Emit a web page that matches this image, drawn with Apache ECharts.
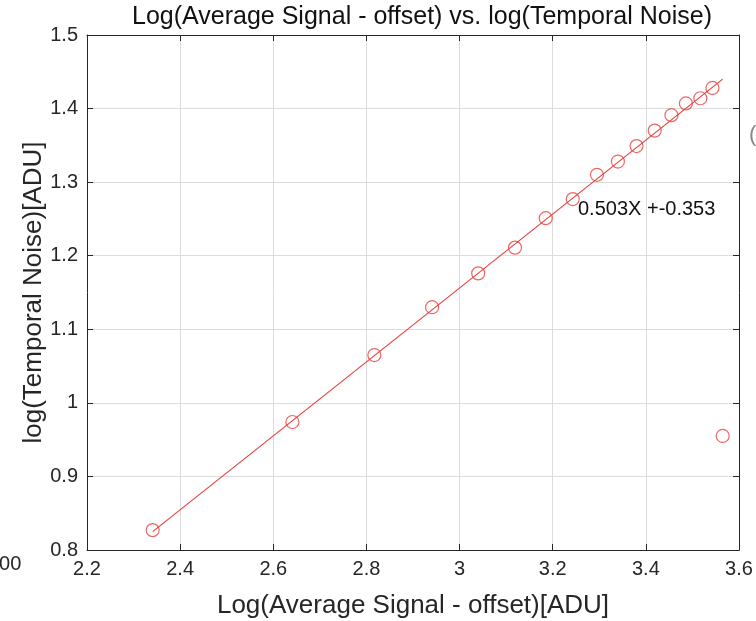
<!DOCTYPE html>
<html>
<head>
<meta charset="utf-8">
<script src="https://cdn.jsdelivr.net/npm/echarts@6/dist/echarts.min.js"></script>
<style>
  html, body { margin: 0; padding: 0; background: #fff; }
  #noise_chart { width: 756px; height: 621px; }
</style>
</head>
<body>
<div id="noise_chart"></div>
<script>
  // log10 of mean signal (offset removed) and of temporal noise, in ADU
  let signalLog = [2.341, 2.641, 2.817, 2.941, 3.040, 3.119, 3.185, 3.243, 3.295,
    3.340, 3.380, 3.419, 3.455, 3.486, 3.517, 3.543, 3.565]
  let noiseLog = [0.827, 0.974, 1.065, 1.130, 1.176, 1.211, 1.251, 1.277, 1.310,
    1.328, 1.349, 1.370, 1.391, 1.407, 1.414, 1.428, 0.955]
  // ends of the fitted line 0.503X - 0.353
  let fitX = [2.341, 3.565]
  let fitY = [0.825, 1.440]
  let xTickLabels = ['2.2', '2.4', '2.6', '2.8', '3', '3.2', '3.4', '3.6']
  let yTickLabels = ['0.8', '0.9', '1', '1.1', '1.2', '1.3', '1.4', '1.5']

  let font = 'Liberation Sans, Arial, sans-serif'
  let red = '#e8413d'
  let dark = '#262626'

  let myChart = echarts.init(document.getElementById('noise_chart'))

  let boxAxis = {
    axisLine: { show: true, lineStyle: { color: dark, width: 1 } },
    axisTick: { show: true, inside: true, length: 6, lineStyle: { color: dark } },
    axisLabel: { show: false },
    splitLine: { show: false }
  }

  let option = {
    animation: false,
    backgroundColor: '#fff',
    grid: {
      left: 87,
      right: 17,
      top: 35,
      bottom: 71,
      containLabel: false,
      outerBoundsMode: 'none'
    },
    xAxis: [{
      type: 'value',
      min: 2.2,
      max: 3.6,
      interval: 0.2,
      name: 'Log(Average Signal - offset)[ADU]',
      nameLocation: 'middle',
      nameGap: 43,
      nameMoveOverlap: false,
      nameTextStyle: { color: dark, fontSize: 26, fontFamily: font },
      axisLine: { show: true, onZero: false, lineStyle: { color: dark } },
      axisTick: { show: true, inside: true, length: 6, lineStyle: { color: dark } },
      axisLabel: {
        color: dark,
        fontSize: 20,
        fontFamily: font,
        margin: 9,
        formatter: function (value, index) {
          return xTickLabels[index]
        }
      },
      splitLine: { show: true, lineStyle: { color: '#dcdcdc' } }
    }, Object.assign({
      type: 'value',
      position: 'top',
      min: 2.2,
      max: 3.6,
      interval: 0.2
    }, boxAxis)],
    yAxis: [{
      type: 'value',
      min: 0.8,
      max: 1.5,
      interval: 0.1,
      name: 'log(Temporal Noise)[ADU]',
      nameLocation: 'middle',
      nameGap: 40,
      nameMoveOverlap: false,
      nameTextStyle: { color: dark, fontSize: 26, fontFamily: font },
      axisLine: { show: true, onZero: false, lineStyle: { color: dark } },
      axisTick: { show: true, inside: true, length: 6, lineStyle: { color: dark } },
      axisLabel: {
        color: dark,
        fontSize: 20,
        fontFamily: font,
        margin: 9,
        formatter: function (value, index) {
          return yTickLabels[index]
        }
      },
      splitLine: { show: true, lineStyle: { color: '#dcdcdc' } }
    }, Object.assign({
      type: 'value',
      position: 'right',
      min: 0.8,
      max: 1.5,
      interval: 0.1
    }, boxAxis)],
    graphic: [{
      type: 'text',
      x: 422,
      y: 17,
      style: {
        text: 'Log(Average Signal - offset) vs. log(Temporal Noise)',
        align: 'center',
        verticalAlign: 'middle',
        fontSize: 25,
        fontFamily: font,
        fill: '#111'
      }
    }, {
      type: 'text',
      left: 578,
      top: 199,
      style: {
        text: '0.503X +-0.353',
        fontSize: 20,
        fontFamily: font,
        fill: '#111'
      }
    }, {
      type: 'text',
      left: -12,
      top: 554,
      style: {
        text: '100',
        fontSize: 20,
        fontFamily: font,
        fill: dark
      }
    }, {
      type: 'text',
      left: 749,
      top: 124,
      style: {
        text: '(',
        fontSize: 22,
        fontFamily: font,
        fill: '#888'
      }
    }],
    series: [{
      name: 'fit',
      type: 'line',
      data: fitX.map(function (x, i) { return [x, fitY[i]] }),
      symbol: 'none',
      lineStyle: { color: red, width: 1.2 },
      z: 2
    }, {
      name: 'measured',
      type: 'scatter',
      data: signalLog.map(function (x, i) { return [x, noiseLog[i]] }),
      symbol: 'circle',
      symbolSize: 13,
      itemStyle: {
        color: 'rgba(255,255,255,0)',
        borderColor: red,
        borderWidth: 1.2
      },
      z: 3
    }]
  }

  myChart.setOption(option)
</script>
</body>
</html>
